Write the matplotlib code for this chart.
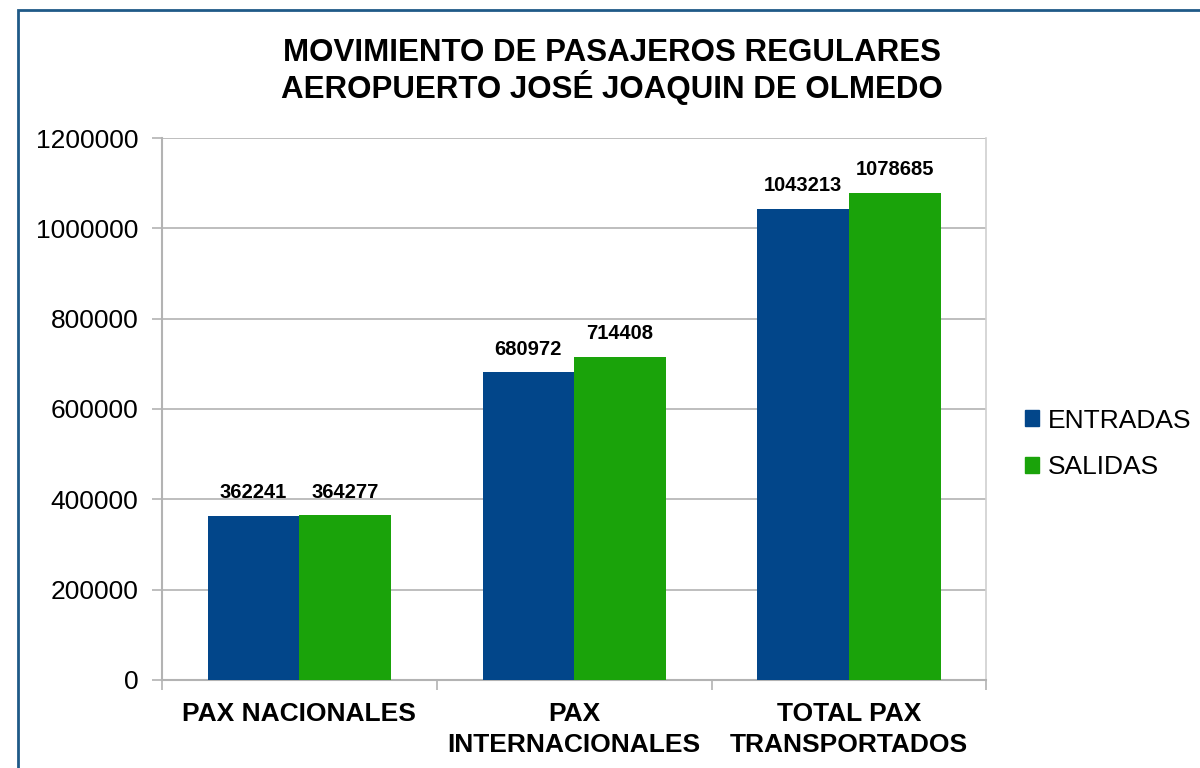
import matplotlib.pyplot as plt
import numpy as np
from matplotlib.patches import Rectangle, Patch

plt.rcParams['font.family'] = ['Liberation Sans', 'DejaVu Sans']

categorias = ["PAX NACIONALES", "PAX\nINTERNACIONALES", "TOTAL PAX\nTRANSPORTADOS"]
entradas = [362241, 680972, 1043213]
salidas = [364277, 714408, 1078685]
series = ["ENTRADAS", "SALIDAS"]
yticks = [0, 200000, 400000, 600000, 800000, 1000000, 1200000]

color_entradas = '#02468A'
color_salidas = '#1AA30A'

fig = plt.figure(figsize=(12, 7.68), dpi=100)
ax = fig.add_axes([0.135, 0.1146, 0.687, 0.7057])

x = np.arange(len(categorias))
ancho = 1 / 3
b1 = ax.bar(x - ancho / 2, entradas, ancho, color=color_entradas, zorder=3)
b2 = ax.bar(x + ancho / 2, salidas, ancho, color=color_salidas, zorder=3)

for barras in (b1, b2):
    for b in barras:
        ax.annotate(f"{int(b.get_height())}", (b.get_x() + b.get_width() / 2, b.get_height()),
                    xytext=(0, 10), textcoords='offset points', ha='center', va='bottom',
                    fontsize=14.5, fontweight='bold', zorder=4)

ax.set_xlim(-0.5, 2.5)
ax.set_ylim(0, 1200000)
ax.set_yticks(yticks)
ax.set_yticklabels([str(v) for v in yticks], fontsize=19)
ax.yaxis.grid(True, color='#b3b3b3', linewidth=1.2, zorder=0)

# ticks de categoria en los limites
ax.set_xticks(x)
ax.set_xticklabels(categorias, fontsize=19, fontweight='bold', linespacing=1.35)
ax.tick_params(axis='x', length=0, pad=16)
ax.set_xticks([-0.5, 0.5, 1.5, 2.5], minor=True)
ax.tick_params(axis='x', which='minor', length=7, color='#b3b3b3', width=1.2)
ax.tick_params(axis='y', length=7, color='#b3b3b3', width=1.2, pad=10)

for lado in ['top', 'right']:
    ax.spines[lado].set_visible(False)
for lado in ['left', 'bottom']:
    ax.spines[lado].set_color('#b3b3b3')
    ax.spines[lado].set_linewidth(1.5)
ax.plot([1, 1], [0, 1], transform=ax.transAxes, color='#d0d0d0', lw=1.2, clip_on=False)

fig.text(0.51, 0.907, "MOVIMIENTO DE PASAJEROS REGULARES\nAEROPUERTO JOSÉ JOAQUIN DE OLMEDO",
         ha='center', va='center', fontsize=22.5, fontweight='bold', linespacing=1.1)

handles = [Patch(color=color_entradas), Patch(color=color_salidas)]
fig.legend(handles, series, loc='center left', bbox_to_anchor=(0.834, 0.422), frameon=False,
           fontsize=19, handlelength=0.55, handleheight=0.55, handletextpad=0.35, labelspacing=0.85)

fig.patches.append(Rectangle((18 / 1200, -0.02), 1.0, 1 - 10 / 768 + 0.02, transform=fig.transFigure,
                             fill=False, edgecolor='#1F5A87', linewidth=2))

plt.savefig("out.png", dpi=100)
